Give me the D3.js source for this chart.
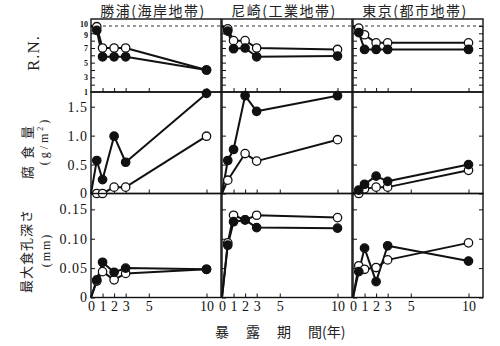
<!DOCTYPE html>
<html><head><meta charset="utf-8">
<script src="https://cdn.jsdelivr.net/npm/d3@7"></script>
<style>body{margin:0;background:#fff}</style>
</head><body>
<svg id="c" width="500" height="346"></svg>
<script>
// ---- data ----
const years = [0.5, 1, 2, 3, 10];
const sites = ["勝浦(海岸地帯)", "尼崎(工業地帯)", "東京(都市地帯)"];
const rnTicks = [10, 9, 7, 5, 3, 1];
const corrTicks = [0, 0.5, 1.0, 1.5];
const depthTicks = [0, 0.05, 0.10, 0.15];
const yearTicks = [0, 1, 2, 3, 5, 10];
const yearMinorTicks = [1, 2, 3, 5, 10];

const katsuuraRNOpen   = [9.9, 7.0, 7.0, 7.0, 4.0];
const katsuuraRNFilled = [9.4, 5.8, 5.8, 5.8, 4.0];
const amagasakiRNOpen   = [9.6, 8.0, 8.0, 7.0, 6.8];
const amagasakiRNFilled = [9.3, 6.9, 7.0, 5.8, 5.9];
const tokyoRNOpen   = [9.7, 8.8, 7.7, 7.7, 7.7];
const tokyoRNFilled = [9.1, 6.8, 6.8, 6.8, 6.8];

const katsuuraCorrOpen   = [0.0, 0.0, 0.11, 0.11, 0.99];
const katsuuraCorrFilled = [0.57, 0.24, 0.99, 0.54, 1.73];
const amagasakiCorrOpen   = [0.23, null, 0.69, 0.56, 0.93];
const amagasakiCorrFilled = [0.57, 0.76, 1.69, 1.42, 1.69];
const tokyoCorrOpen   = [0.0, 0.08, 0.11, 0.11, 0.40];
const tokyoCorrFilled = [0.06, 0.16, 0.30, 0.21, 0.50];

const katsuuraDepthOpen   = [0.028, 0.044, 0.030, 0.041, 0.048];
const katsuuraDepthFilled = [0.030, 0.060, 0.043, 0.050, 0.048];
const amagasakiDepthOpen   = [0.093, 0.140, 0.132, 0.140, 0.136];
const amagasakiDepthFilled = [0.089, 0.129, 0.132, 0.119, 0.118];
const tokyoDepthOpen   = [0.054, 0.048, 0.051, 0.064, 0.093];
const tokyoDepthFilled = [0.044, 0.084, 0.027, 0.088, 0.062];

// ---- layout ----
const svg = d3.select("#c");
const serif = "'Liberation Serif','DejaVu Serif',serif";
const cjk = "'Noto Sans CJK JP',sans-serif";
const lefts = [91, 222, 353], pw = 130;
const xMax = 130 / 11.55;

const rows = [
  {top: 19, bottom: 92, domain: [1, 10.95], start: 10, ticks: rnTicks, minor: d3.range(2, 11),
   fmt: d => String(d), fs: 8,
   series: [[katsuuraRNOpen, katsuuraRNFilled], [amagasakiRNOpen, amagasakiRNFilled], [tokyoRNOpen, tokyoRNFilled]]},
  {top: 92, bottom: 193.5, domain: [0, 1.754], start: 0, ticks: corrTicks, minor: corrTicks,
   fmt: d => d === 0 ? "0" : d3.format(".1f")(d), fs: 14,
   series: [[katsuuraCorrOpen, katsuuraCorrFilled], [amagasakiCorrOpen, amagasakiCorrFilled], [tokyoCorrOpen, tokyoCorrFilled]]},
  {top: 193.5, bottom: 297.5, domain: [0, 0.177], start: 0, ticks: depthTicks, minor: depthTicks,
   fmt: d => d === 0 ? "0" : d3.format(".2f")(d), fs: 14,
   series: [[katsuuraDepthOpen, katsuuraDepthFilled], [amagasakiDepthOpen, amagasakiDepthFilled], [tokyoDepthOpen, tokyoDepthFilled]]}
];

function cleanAxis(g) { g.select(".domain").remove(); g.selectAll("line").attr("stroke", "#111").attr("stroke-width", 1); }

rows.forEach((row, ri) => {
  const y = d3.scaleLinear().domain(row.domain).range([row.bottom, row.top]);
  lefts.forEach((L, ci) => {
    const x = d3.scaleLinear().domain([0, xMax]).range([L, L + pw]);
    const g = svg.append("g");

    if (ri === 0) {
      g.append("line").attr("x1", L).attr("x2", L + pw).attr("y1", y(10)).attr("y2", y(10))
        .attr("stroke", "#333").attr("stroke-width", 1).attr("stroke-dasharray", "3,3");
    }

    // inward ticks
    g.append("g").attr("transform", `translate(${L},0)`)
      .call(d3.axisLeft(y).tickValues(row.minor).tickSize(-4).tickFormat(""))
      .call(cleanAxis);
    if (ci === 2) {
      g.append("g").attr("transform", `translate(${L + pw},0)`)
        .call(d3.axisRight(y).tickValues(row.minor).tickSize(-4).tickFormat(""))
        .call(cleanAxis);
    }
    g.append("g").attr("transform", `translate(0,${row.bottom})`)
      .call(d3.axisBottom(x).tickValues(yearMinorTicks).tickSize(-4).tickFormat(""))
      .call(cleanAxis);

    if (ci === 0) {
      const ax = g.append("g").attr("transform", `translate(${L - 2},0)`)
        .call(d3.axisLeft(y).tickValues(row.ticks).tickSize(0).tickPadding(1).tickFormat(row.fmt))
        .call(cleanAxis);
      ax.selectAll("text").attr("font-family", serif).attr("font-size", row.fs)
        .attr("fill", "#111").attr("font-weight", ri === 0 ? "bold" : "normal")
        .attr("letter-spacing", ri === 0 ? 0 : 1);
      if (ri === 0) {
        ax.selectAll("text").attr("dy", d => d === 10 ? "0.05em" : d === 9 ? "0.5em" : "0.32em");
      }
    }
    if (ri === 2) {
      const ax = g.append("g").attr("transform", `translate(0,${row.bottom})`)
        .call(d3.axisBottom(x).tickValues(yearTicks).tickSize(0).tickPadding(4).tickFormat(d => String(d)))
        .call(cleanAxis);
      ax.selectAll("text").attr("font-family", serif).attr("font-size", 14).attr("fill", "#111");
    }

    // border
    g.append("rect").attr("x", L).attr("y", row.top).attr("width", pw).attr("height", row.bottom - row.top)
      .attr("fill", "none").attr("stroke", "#111").attr("stroke-width", 1.4);

    const line = d3.line().x(d => x(d.x)).y(d => y(d.v));
    const pts = row.series[ci].map(arr =>
      [{x: 0, v: row.start, origin: true}].concat(years.map((yr, i) => ({x: yr, v: arr[i]}))).filter(d => d.v != null));

    pts.forEach(p => {
      g.append("path").datum(p).attr("d", line).attr("fill", "none")
        .attr("stroke", "#111").attr("stroke-width", 2).attr("stroke-linejoin", "round");
    });
    pts.forEach((p, si) => {
      g.selectAll(null).data(p.filter(d => !d.origin)).enter().append("circle")
        .attr("cx", d => x(d.x)).attr("cy", d => y(d.v)).attr("r", 4.2)
        .attr("fill", si === 0 ? "#fff" : "#111").attr("stroke", "#111").attr("stroke-width", 1.3);
    });
  });
});

// titles
sites.forEach((s, i) => {
  svg.append("text").attr("x", lefts[i] + pw / 2 - 3).attr("y", 16).attr("text-anchor", "middle")
    .attr("font-family", cjk).attr("font-size", 14).attr("letter-spacing", 1.5).attr("fill", "#222").text(s);
});

// y titles
function vtext(x, y, txt, font, size, ls) {
  svg.append("text").attr("transform", `translate(${x},${y}) rotate(-90)`)
    .attr("text-anchor", "middle").attr("dominant-baseline", "central")
    .attr("font-family", font).attr("font-size", size).attr("letter-spacing", ls).attr("fill", "#222").text(txt);
}
vtext(33, 53, "R.N.", serif, 17, 1);
vtext(26, 149, "腐食量", cjk, 13, 7);
const gm = svg.append("text").attr("transform", `translate(44,141) rotate(-90)`)
  .attr("text-anchor", "middle").attr("dominant-baseline", "central")
  .attr("font-family", serif).attr("font-size", 12).attr("letter-spacing", 3).attr("fill", "#222");
gm.append("tspan").text("(g/m");
gm.append("tspan").attr("font-size", 8).attr("dy", -4).text("2");
gm.append("tspan").attr("dy", 4).text(")");
vtext(25, 251, "最大食孔深さ", cjk, 13, 1);
vtext(46, 250, "(mm)", serif, 12, 2);

// x title
const xt = svg.append("text").attr("x", 215).attr("y", 337).attr("font-family", cjk)
  .attr("font-size", 14).attr("fill", "#222");
xt.append("tspan").attr("letter-spacing", 17).text("暴露期");
xt.append("tspan").text("間(年)");
</script>
</body></html>
